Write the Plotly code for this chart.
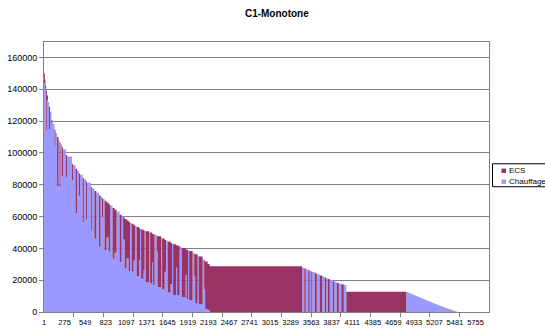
import plotly.graph_objects as go

# Hour rank (start of each step), Chauffage and ECS values in W
rank = [1, 11, 20, 29, 40, 53, 67, 80, 100, 113, 140, 154, 174, 194, 207, 220, 240, 254, 294, 307,
        374, 387, 421, 441, 467, 481, 514, 531, 561, 574, 625, 638, 672, 698, 734, 754, 774, 788, 808, 834,
        861, 881, 914, 941, 968, 1008, 1035, 1055, 1075, 1101, 1128, 1148, 1168, 1195, 1215, 1235, 1268, 1282, 1295, 1328,
        1342, 1355, 1402, 1415, 1442, 1455, 1475, 1502, 1515, 1562, 1575, 1609, 1629, 1649, 1689, 1709, 1722, 1762, 1776, 1809,
        1836, 1889, 1902, 1922, 1936, 1982, 2003, 2016, 2049, 2063, 2116, 2136, 2149, 2183, 2209,
        3444, 3471, 3491, 3524, 3544, 3564, 3578, 3611, 3638, 3678, 3711, 3745, 3765, 3785, 3811, 3852, 3871, 3905, 3932, 3965, 3998,
        4032, 4835]

chauffage_k = [144, 141, 139, 114, 133, 132, 115, 125.5, 117.5, 118, 104.5, 112.5, 79, 108, 78.5, 105.2, 85.5, 102.2, 84.7, 97.8,
               83, 92.2, 62, 88.8, 73.1, 86.3, 56.4, 83.5, 58, 81.2, 51.5, 77.8, 46, 74.9, 41.3, 72.4, 59.5, 71, 39, 46.9,
               37.8, 66.9, 33.4, 37.3, 63.2, 31.2, 60.2, 45.5, 27.5, 33.6, 25.7, 56, 25.4, 32.6, 54, 22.5, 32.6, 52.2, 20.9, 26.2,
               51, 18.7, 50.1, 17.9, 31.2, 16.9, 48.5, 37.9, 15.6, 46.5, 14.2, 25.3, 44.8, 12.3, 17.4, 42.9, 10.6, 27.9, 10.6, 40.8,
               9.2, 23.4, 8.2, 38.7, 7.3, 37.1, 22.6, 5.3, 35.2, 4.9, 33, 14.3, 1.8, 1.2, 0,
               27.8, 0, 26.9, 0, 25.8, 0, 25.1, 0, 23.8, 0, 22.3, 0, 21.2, 0, 20.2, 0, 19, 0, 17.8, 0, 17,
               0, 0]

ecs_k = [6, 5, 3, 25, 3, 0, 14, 0, 3, 0, 10, 0, 31, 0, 28, 0, 18, 0, 14, 0,
         10, 0, 28, 0, 14, 0, 28, 0, 24, 0, 27, 0, 30, 0, 32, 0, 12, 0, 31, 22,
         30, 0, 32, 27, 0, 30, 0, 14, 31, 24, 31, 0, 30, 22, 0, 31, 20, 0, 31, 25,
         0, 32, 0, 32, 18, 32, 0, 10, 32, 0, 32, 20, 0, 32, 26, 0, 32, 14, 31, 0,
         31, 16, 31, 0, 31, 0, 14, 31, 0, 30, 0, 18, 30, 29, 28.8,
         0, 27.3, 0, 26.2, 0, 25.4, 0, 24.4, 0, 23, 0, 21.6, 0, 20.8, 0, 19.4, 0, 18.3, 0, 17.4, 0,
         12.7, 0]

# Final heating-only tail
tail_rank = [4835, 5005, 5175, 5345, 5520]
tail_chauffage_k = [12.7, 9.2, 5.9, 2.8, 0]

x_labels = [1, 275, 549, 823, 1097, 1371, 1645, 1919, 2193, 2467, 2741, 3015, 3289,
            3563, 3837, 4111, 4385, 4659, 4933, 5207, 5481, 5755]
y_ticks = [0, 20000, 40000, 60000, 80000, 100000, 120000, 140000, 160000]
series_names = ["ECS", "Chauffage"]

chauffage = [v * 1000 for v in chauffage_k]
ecs = [v * 1000 for v in ecs_k]
tail_chauffage = [v * 1000 for v in tail_chauffage_k]

BLUE = "#9999FF"
RED = "#993366"
FONT = "Liberation Sans, Arial, sans-serif"

fig = go.Figure()
fig.add_trace(go.Scatter(x=rank, y=chauffage, name="Chauffage", stackgroup="one",
                         mode="lines", line=dict(width=0, shape="hv"),
                         fillcolor=BLUE, hoverinfo="skip", showlegend=False))
fig.add_trace(go.Scatter(x=rank, y=ecs, name="ECS", stackgroup="one",
                         mode="lines", line=dict(width=0, shape="hv"),
                         fillcolor=RED, hoverinfo="skip", showlegend=False))
fig.add_trace(go.Scatter(x=tail_rank, y=tail_chauffage, name="Chauffage", showlegend=False,
                         mode="lines", line=dict(width=0), fill="tozeroy",
                         fillcolor=BLUE, hoverinfo="skip"))

minor_ticks = [396 * k for k in range(1, 15)]

# Plot area in pixels: x 44..489, y 42..312.5
PL, PR, PT, PB = 44, 489, 42, 312.5
def px_x(p):
    return (p - PL) / (PR - PL)
def px_y(p):
    return (PB - p) / (PB - PT)

shapes = [
    dict(type="rect", xref="paper", yref="paper", x0=px_x(492.5), x1=px_x(600), y0=px_y(187), y1=px_y(164),
         line=dict(color="#000000", width=1), fillcolor="white", layer="above"),
]
annotations = []
for i, (nm, col) in enumerate(zip(series_names, [RED, BLUE])):
    cy = 171 + i * 11
    shapes.append(dict(type="rect", xref="paper", yref="paper",
                       x0=px_x(501.5), x1=px_x(506), y0=px_y(cy + 2.2), y1=px_y(cy - 2.2),
                       line=dict(width=0), fillcolor=col, layer="above"))
    annotations.append(dict(text=nm, xref="paper", yref="paper", x=px_x(507), y=px_y(cy),
                            xanchor="left", yanchor="middle", showarrow=False,
                            font=dict(family=FONT, size=8, color="#000000")))

fig.update_layout(
    width=545, height=331,
    margin=dict(l=PL, r=545 - PR, t=PT, b=331 - PB),
    paper_bgcolor="white", plot_bgcolor="white",
    title=dict(text="<b>C1-Monotone</b>", x=0.508, xanchor="center", y=0.958, yanchor="middle",
               font=dict(family=FONT, size=10, color="#000000")),
    showlegend=False,
    shapes=shapes, annotations=annotations,
    font=dict(family=FONT, size=8, color="#000000"),
)
fig.update_xaxes(range=[0, 5935], tickmode="array", tickvals=x_labels, ticktext=[str(v) for v in x_labels],
                 ticks="outside", ticklen=3, tickcolor="rgba(0,0,0,0)", tickangle=0, automargin=False,
                 showgrid=False, zeroline=False, showline=True, linecolor="#808080", linewidth=1, mirror=True,
                 tickfont=dict(family=FONT, size=7.5, color="#000000"),
                 minor=dict(tickmode="array", tickvals=minor_ticks, ticks="outside", ticklen=4,
                            tickcolor="#808080", showgrid=False))
fig.update_yaxes(range=[0, 169700], tickmode="array", tickvals=y_ticks, ticktext=[str(v) for v in y_ticks],
                 ticks="outside", ticklen=4, tickcolor="#808080", automargin=False,
                 showgrid=True, gridcolor="#808080", gridwidth=1, zeroline=False,
                 showline=True, linecolor="#808080", linewidth=1, mirror=True,
                 tickfont=dict(family=FONT, size=9, color="#000000"))

fig.write_html("out.html", config={"displayModeBar": False},
               post_script="document.body.style.margin='0';")
